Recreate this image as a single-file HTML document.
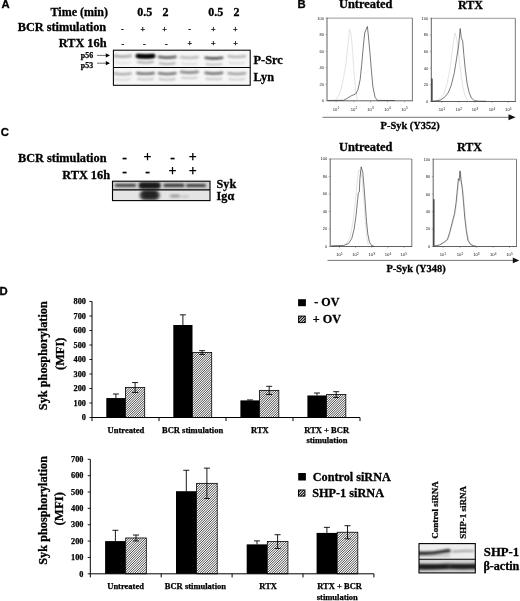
<!DOCTYPE html>
<html><head><meta charset="utf-8"><title>Figure</title>
<style>
html,body{margin:0;padding:0;background:#fff;}
body{width:520px;height:601px;overflow:hidden;}
svg{display:block;}
.ts{font-family:"Liberation Serif", serif;}
.ta{font-family:"Liberation Sans", sans-serif;}
</style></head><body>
<svg width="520" height="601" viewBox="0 0 520 601">
<defs>
<filter id="b1" filterUnits="userSpaceOnUse" x="0" y="0" width="520" height="601"><feGaussianBlur stdDeviation="1.1 0.8"/></filter>
<filter id="b2" filterUnits="userSpaceOnUse" x="0" y="0" width="520" height="601"><feGaussianBlur stdDeviation="1.6 1.0"/></filter>
<clipPath id="cA"><rect x="113.4" y="50.2" width="136.8" height="35.1"/></clipPath>
<clipPath id="cC"><rect x="112.5" y="181.2" width="97.5" height="19.4"/></clipPath>
<clipPath id="cS"><rect x="419" y="543.6" width="56.3" height="29.3"/></clipPath>
</defs>
<rect width="520" height="601" fill="#fff"/>
<text class="ta" x="1.6" y="8.4" font-size="11.3" text-anchor="start" font-weight="bold" fill="#000"  stroke="#000" stroke-width="0.3">A</text>
<text class="ta" x="297.6" y="8.1" font-size="11.3" text-anchor="start" font-weight="bold" fill="#000"  stroke="#000" stroke-width="0.3">B</text>
<text class="ta" x="0.8" y="136" font-size="11.3" text-anchor="start" font-weight="bold" fill="#000"  stroke="#000" stroke-width="0.3">C</text>
<text class="ta" x="-0.4" y="295.2" font-size="11.3" text-anchor="start" font-weight="bold" fill="#000"  stroke="#000" stroke-width="0.3">D</text>
<text class="ts" x="108" y="15.5" font-size="12" text-anchor="end" font-weight="bold" fill="#000"  stroke="#000" stroke-width="0.3">Time (min)</text>
<text class="ts" x="106.2" y="31.3" font-size="12.3" text-anchor="end" font-weight="bold" fill="#000"  stroke="#000" stroke-width="0.3">BCR stimulation</text>
<text class="ts" x="106.5" y="47.0" font-size="12.3" text-anchor="end" font-weight="bold" fill="#000"  stroke="#000" stroke-width="0.3">RTX 16h</text>
<text class="ts" x="144.75" y="15.5" font-size="12" text-anchor="middle" font-weight="bold" fill="#000"  stroke="#000" stroke-width="0.3">0.5</text>
<text class="ts" x="165.4" y="15.5" font-size="12" text-anchor="middle" font-weight="bold" fill="#000"  stroke="#000" stroke-width="0.3">2</text>
<text class="ts" x="215.7" y="15.5" font-size="12" text-anchor="middle" font-weight="bold" fill="#000"  stroke="#000" stroke-width="0.3">0.5</text>
<text class="ts" x="236.5" y="15.5" font-size="12" text-anchor="middle" font-weight="bold" fill="#000"  stroke="#000" stroke-width="0.3">2</text>
<text class="ts" x="122.3" y="32.4" font-size="8" text-anchor="middle" font-weight="bold" fill="#000"  stroke="#000" stroke-width="0.25">-</text>
<text class="ts" x="122.8" y="46.5" font-size="8" text-anchor="middle" font-weight="bold" fill="#000"  stroke="#000" stroke-width="0.25">-</text>
<text class="ts" x="142.9" y="31.9" font-size="8" text-anchor="middle" font-weight="bold" fill="#000"  stroke="#000" stroke-width="0.25">+</text>
<text class="ts" x="144.4" y="46.5" font-size="8" text-anchor="middle" font-weight="bold" fill="#000"  stroke="#000" stroke-width="0.25">-</text>
<text class="ts" x="164.6" y="31.9" font-size="8" text-anchor="middle" font-weight="bold" fill="#000"  stroke="#000" stroke-width="0.25">+</text>
<text class="ts" x="166.3" y="46.5" font-size="8" text-anchor="middle" font-weight="bold" fill="#000"  stroke="#000" stroke-width="0.25">-</text>
<text class="ts" x="189.5" y="32.4" font-size="8" text-anchor="middle" font-weight="bold" fill="#000"  stroke="#000" stroke-width="0.25">-</text>
<text class="ts" x="189.8" y="46.3" font-size="8" text-anchor="middle" font-weight="bold" fill="#000"  stroke="#000" stroke-width="0.25">+</text>
<text class="ts" x="213.2" y="31.9" font-size="8" text-anchor="middle" font-weight="bold" fill="#000"  stroke="#000" stroke-width="0.25">+</text>
<text class="ts" x="213.4" y="46.3" font-size="8" text-anchor="middle" font-weight="bold" fill="#000"  stroke="#000" stroke-width="0.25">+</text>
<text class="ts" x="235.4" y="31.9" font-size="8" text-anchor="middle" font-weight="bold" fill="#000"  stroke="#000" stroke-width="0.25">+</text>
<text class="ts" x="235.6" y="46.3" font-size="8" text-anchor="middle" font-weight="bold" fill="#000"  stroke="#000" stroke-width="0.25">+</text>
<text class="ts" x="80.8" y="57.8" font-size="7.9" text-anchor="start" font-weight="bold" fill="#000"  stroke="#000" stroke-width="0.25">p56</text>
<text class="ts" x="80.8" y="68.3" font-size="7.9" text-anchor="start" font-weight="bold" fill="#000"  stroke="#000" stroke-width="0.25">p53</text>
<path d="M97 55.4H107" stroke="#333" stroke-width="0.7"/><path d="M105.8 53.3L110 55.4L105.8 57.5Z" fill="#000"/>
<path d="M97 63.2H107" stroke="#333" stroke-width="0.7"/><path d="M105.8 61.1L110 63.2L105.8 65.3Z" fill="#000"/>
<rect x="113.4" y="50.2" width="136.8" height="35.1" fill="#f6f6f6"/>
<g clip-path="url(#cA)">
<path d="M114.30 55.90Q122.50 57.30 130.70 55.90" stroke="#000" stroke-width="2.6" stroke-linecap="round" fill="none" opacity="0.3" filter="url(#b1)"/>
<path d="M115.00 62.30Q122.50 63.50 130.00 62.30" stroke="#000" stroke-width="2.0" stroke-linecap="round" fill="none" opacity="0.08" filter="url(#b1)"/>
<path d="M137.60 55.90Q145.50 56.90 153.40 55.90" stroke="#000" stroke-width="4.2" stroke-linecap="round" fill="none" opacity="0.95" filter="url(#b1)"/>
<path d="M138.30 56.20Q145.50 57.00 152.70 56.20" stroke="#000" stroke-width="2.6" stroke-linecap="round" fill="none" opacity="0.9" filter="url(#b1)"/>
<path d="M138.00 62.10Q145.50 63.30 153.00 62.10" stroke="#000" stroke-width="2.0" stroke-linecap="round" fill="none" opacity="0.32" filter="url(#b1)"/>
<path d="M159.00 56.90Q167.20 58.30 175.40 56.90" stroke="#000" stroke-width="2.6" stroke-linecap="round" fill="none" opacity="0.62" filter="url(#b1)"/>
<path d="M159.70 63.30Q167.20 64.50 174.70 63.30" stroke="#000" stroke-width="2.0" stroke-linecap="round" fill="none" opacity="0.3" filter="url(#b1)"/>
<path d="M181.20 57.10Q189.40 58.50 197.60 57.10" stroke="#000" stroke-width="2.6" stroke-linecap="round" fill="none" opacity="0.24" filter="url(#b1)"/>
<path d="M181.90 63.50Q189.40 64.70 196.90 63.50" stroke="#000" stroke-width="2.0" stroke-linecap="round" fill="none" opacity="0.1" filter="url(#b1)"/>
<path d="M205.70 57.70Q213.90 59.10 222.10 57.70" stroke="#000" stroke-width="2.6" stroke-linecap="round" fill="none" opacity="0.68" filter="url(#b1)"/>
<path d="M206.40 64.10Q213.90 65.30 221.40 64.10" stroke="#000" stroke-width="2.0" stroke-linecap="round" fill="none" opacity="0.22" filter="url(#b1)"/>
<path d="M228.60 56.30Q236.80 57.70 245.00 56.30" stroke="#000" stroke-width="2.6" stroke-linecap="round" fill="none" opacity="0.27" filter="url(#b1)"/>
<path d="M229.30 62.70Q236.80 63.90 244.30 62.70" stroke="#000" stroke-width="2.0" stroke-linecap="round" fill="none" opacity="0.1" filter="url(#b1)"/>
<path d="M114.30 73.50Q122.50 74.90 130.70 73.50" stroke="#000" stroke-width="2.6" stroke-linecap="round" fill="none" opacity="0.3" filter="url(#b1)"/>
<path d="M114.90 79.20Q122.50 80.40 130.10 79.20" stroke="#000" stroke-width="1.8" stroke-linecap="round" fill="none" opacity="0.126" filter="url(#b1)"/>
<path d="M137.30 73.10Q145.50 74.50 153.70 73.10" stroke="#000" stroke-width="2.6" stroke-linecap="round" fill="none" opacity="0.52" filter="url(#b1)"/>
<path d="M137.90 78.80Q145.50 80.00 153.10 78.80" stroke="#000" stroke-width="1.8" stroke-linecap="round" fill="none" opacity="0.2184" filter="url(#b1)"/>
<path d="M159.00 73.30Q167.20 74.70 175.40 73.30" stroke="#000" stroke-width="2.6" stroke-linecap="round" fill="none" opacity="0.55" filter="url(#b1)"/>
<path d="M159.60 79.00Q167.20 80.20 174.80 79.00" stroke="#000" stroke-width="1.8" stroke-linecap="round" fill="none" opacity="0.231" filter="url(#b1)"/>
<path d="M181.20 71.90Q189.40 73.30 197.60 71.90" stroke="#000" stroke-width="2.6" stroke-linecap="round" fill="none" opacity="0.45" filter="url(#b1)"/>
<path d="M181.80 77.60Q189.40 78.80 197.00 77.60" stroke="#000" stroke-width="1.8" stroke-linecap="round" fill="none" opacity="0.189" filter="url(#b1)"/>
<path d="M205.70 72.90Q213.90 74.30 222.10 72.90" stroke="#000" stroke-width="2.6" stroke-linecap="round" fill="none" opacity="0.52" filter="url(#b1)"/>
<path d="M206.30 78.60Q213.90 79.80 221.50 78.60" stroke="#000" stroke-width="1.8" stroke-linecap="round" fill="none" opacity="0.2184" filter="url(#b1)"/>
<path d="M228.60 73.30Q236.80 74.70 245.00 73.30" stroke="#000" stroke-width="2.6" stroke-linecap="round" fill="none" opacity="0.36" filter="url(#b1)"/>
<path d="M229.20 79.00Q236.80 80.20 244.40 79.00" stroke="#000" stroke-width="1.8" stroke-linecap="round" fill="none" opacity="0.1512" filter="url(#b1)"/>
</g>
<rect x="113.4" y="50.2" width="136.8" height="35.1" fill="none" stroke="#000" stroke-width="1.05"/>
<path d="M113.4 67.4H250.2" stroke="#000" stroke-width="1.05"/>
<text class="ts" x="253.6" y="64.2" font-size="12.3" text-anchor="start" font-weight="bold" fill="#000"  stroke="#000" stroke-width="0.3">P-Src</text>
<text class="ts" x="253.6" y="80.8" font-size="12.3" text-anchor="start" font-weight="bold" fill="#000"  stroke="#000" stroke-width="0.3">Lyn</text>
<text class="ts" x="106.5" y="161.75" font-size="12.3" text-anchor="end" font-weight="bold" fill="#000"  stroke="#000" stroke-width="0.3">BCR stimulation</text>
<text class="ts" x="110" y="178.7" font-size="12.3" text-anchor="end" font-weight="bold" fill="#000"  stroke="#000" stroke-width="0.3">RTX 16h</text>
<text class="ts" x="124.7" y="162" font-size="14" text-anchor="middle" font-weight="bold" fill="#000"  stroke="#000" stroke-width="0.3">-</text>
<text class="ts" x="124.7" y="175.5" font-size="14" text-anchor="middle" font-weight="bold" fill="#000"  stroke="#000" stroke-width="0.3">-</text>
<text class="ts" x="147.6" y="160.9" font-size="14" text-anchor="middle" font-weight="bold" fill="#000"  stroke="#000" stroke-width="0.3">+</text>
<text class="ts" x="147.6" y="175.5" font-size="14" text-anchor="middle" font-weight="bold" fill="#000"  stroke="#000" stroke-width="0.3">-</text>
<text class="ts" x="172.6" y="162" font-size="14" text-anchor="middle" font-weight="bold" fill="#000"  stroke="#000" stroke-width="0.3">-</text>
<text class="ts" x="172.6" y="175.1" font-size="14" text-anchor="middle" font-weight="bold" fill="#000"  stroke="#000" stroke-width="0.3">+</text>
<text class="ts" x="192.8" y="160.9" font-size="14" text-anchor="middle" font-weight="bold" fill="#000"  stroke="#000" stroke-width="0.3">+</text>
<text class="ts" x="192.8" y="175.1" font-size="14" text-anchor="middle" font-weight="bold" fill="#000"  stroke="#000" stroke-width="0.3">+</text>
<rect x="112.5" y="181.2" width="97.5" height="8.8" fill="#cfcfcf"/>
<rect x="112.5" y="190" width="97.5" height="10.6" fill="#e4e4e4"/>
<g clip-path="url(#cC)">
<rect x="115.00" y="184.10" width="21" height="2.6" rx="1.30" fill="#000" opacity="0.72" filter="url(#b1)"/>
<rect x="138.70" y="182.15" width="22" height="6.5" rx="3.25" fill="#000" opacity="0.78" filter="url(#b1)"/>
<rect x="163.50" y="183.80" width="21" height="3.2" rx="1.60" fill="#000" opacity="0.72" filter="url(#b1)"/>
<rect x="186.00" y="183.90" width="20" height="3.0" rx="1.50" fill="#000" opacity="0.7" filter="url(#b1)"/>
<rect x="140.20" y="183.15" width="19" height="4.5" rx="2.25" fill="#000" opacity="0.5" filter="url(#b1)"/>
<rect x="139.70" y="190.30" width="20" height="10" rx="5.00" fill="#000" opacity="0.72" filter="url(#b2)"/>
<rect x="142.20" y="191.00" width="15" height="7" rx="3.50" fill="#000" opacity="0.45" filter="url(#b2)"/>
<rect x="170.00" y="194.50" width="10" height="3" rx="1.50" fill="#000" opacity="0.32" filter="url(#b2)"/>
<rect x="181.00" y="195.30" width="8" height="2.4" rx="1.20" fill="#000" opacity="0.12" filter="url(#b2)"/>
</g>
<rect x="112.5" y="181.2" width="97.5" height="19.4" fill="none" stroke="#000" stroke-width="1.1"/>
<path d="M112.5 189.9H210" stroke="#000" stroke-width="1.1"/>
<text class="ts" x="216.6" y="187.9" font-size="12.2" text-anchor="start" font-weight="bold" fill="#000"  stroke="#000" stroke-width="0.3">Syk</text>
<text class="ts" x="216.6" y="199.6" font-size="12.2" text-anchor="start" font-weight="bold" fill="#000"  stroke="#000" stroke-width="0.3">Igα</text>
<path d="M327 18.1H412.4" stroke="#999" stroke-width="1"/><path d="M412.4 18.1V100.8" stroke="#555" stroke-width="0.8"/><path d="M327 17.700000000000003V100.8H412.79999999999995" stroke="#3a3a3a" stroke-width="0.8" fill="none"/>
<text class="ta" x="324" y="19.5" font-size="4" text-anchor="end" font-weight="normal" fill="#222" >100</text>
<path d="M325.5 18.1H327" stroke="#555" stroke-width="0.4"/>
<text class="ta" x="324" y="36.04" font-size="4" text-anchor="end" font-weight="normal" fill="#222" >80</text>
<path d="M325.5 34.64H327" stroke="#555" stroke-width="0.4"/>
<text class="ta" x="324" y="52.58" font-size="4" text-anchor="end" font-weight="normal" fill="#222" >60</text>
<path d="M325.5 51.18H327" stroke="#555" stroke-width="0.4"/>
<text class="ta" x="324" y="69.12" font-size="4" text-anchor="end" font-weight="normal" fill="#222" >40</text>
<path d="M325.5 67.72H327" stroke="#555" stroke-width="0.4"/>
<text class="ta" x="324" y="85.66" font-size="4" text-anchor="end" font-weight="normal" fill="#222" >20</text>
<path d="M325.5 84.25999999999999H327" stroke="#555" stroke-width="0.4"/>
<text class="ta" x="324" y="102.19999999999999" font-size="4" text-anchor="end" font-weight="normal" fill="#222" >0</text>
<path d="M325.5 100.79999999999998H327" stroke="#555" stroke-width="0.4"/>
<text class="ta" x="336" y="110.6" font-size="4.2" text-anchor="middle" fill="#222">10<tspan dy="-1.6" font-size="3.2">1</tspan></text>
<path d="M336 100.8V102.3" stroke="#555" stroke-width="0.4"/>
<text class="ta" x="354" y="110.6" font-size="4.2" text-anchor="middle" fill="#222">10<tspan dy="-1.6" font-size="3.2">2</tspan></text>
<path d="M354 100.8V102.3" stroke="#555" stroke-width="0.4"/>
<text class="ta" x="370.5" y="110.6" font-size="4.2" text-anchor="middle" fill="#222">10<tspan dy="-1.6" font-size="3.2">3</tspan></text>
<path d="M370.5 100.8V102.3" stroke="#555" stroke-width="0.4"/>
<text class="ta" x="387.5" y="110.6" font-size="4.2" text-anchor="middle" fill="#222">10<tspan dy="-1.6" font-size="3.2">4</tspan></text>
<path d="M387.5 100.8V102.3" stroke="#555" stroke-width="0.4"/>
<text class="ta" x="404.5" y="110.6" font-size="4.2" text-anchor="middle" fill="#222">10<tspan dy="-1.6" font-size="3.2">5</tspan></text>
<path d="M404.5 100.8V102.3" stroke="#555" stroke-width="0.4"/>
<path d="M335.5 100.3 L340.0 92.8 L343.0 80.9 L346.0 62.9 L348.2 42.0 L349.7 29.2 L351.2 34.5 L352.7 52.4 L354.2 74.9 L355.7 91.3 L357.2 98.8 L358.7 100.5" fill="none" stroke="#d4d4d4" stroke-width="0.65" stroke-linejoin="round"/>
<path d="M328.0 100.5 L343.7 100.3 L347.5 98.1 L351.2 95.8 L355.7 94.0 L357.9 89.9 L360.2 79.4 L361.7 64.4 L363.2 47.9 L364.7 33.0 L366.2 29.2 L367.4 26.5 L368.4 36.0 L369.9 52.4 L371.4 70.4 L372.9 86.9 L375.1 97.3 L377.4 100.4 L395.0 100.5" fill="none" stroke="#3a3a3a" stroke-width="0.68" stroke-linejoin="round"/>
<path d="M431.3 18.3H515.3" stroke="#999" stroke-width="1"/><path d="M515.3 18.3V101.5" stroke="#555" stroke-width="0.8"/><path d="M431.3 17.900000000000002V101.5H515.6999999999999" stroke="#3a3a3a" stroke-width="0.8" fill="none"/>
<text class="ta" x="428.3" y="19.7" font-size="4" text-anchor="end" font-weight="normal" fill="#222" >100</text>
<path d="M429.8 18.3H431.3" stroke="#555" stroke-width="0.4"/>
<text class="ta" x="428.3" y="36.339999999999996" font-size="4" text-anchor="end" font-weight="normal" fill="#222" >80</text>
<path d="M429.8 34.94H431.3" stroke="#555" stroke-width="0.4"/>
<text class="ta" x="428.3" y="52.98" font-size="4" text-anchor="end" font-weight="normal" fill="#222" >60</text>
<path d="M429.8 51.58H431.3" stroke="#555" stroke-width="0.4"/>
<text class="ta" x="428.3" y="69.62" font-size="4" text-anchor="end" font-weight="normal" fill="#222" >40</text>
<path d="M429.8 68.22H431.3" stroke="#555" stroke-width="0.4"/>
<text class="ta" x="428.3" y="86.26" font-size="4" text-anchor="end" font-weight="normal" fill="#222" >20</text>
<path d="M429.8 84.86H431.3" stroke="#555" stroke-width="0.4"/>
<text class="ta" x="428.3" y="102.9" font-size="4" text-anchor="end" font-weight="normal" fill="#222" >0</text>
<path d="M429.8 101.5H431.3" stroke="#555" stroke-width="0.4"/>
<text class="ta" x="442" y="111.3" font-size="4.2" text-anchor="middle" fill="#222">10<tspan dy="-1.6" font-size="3.2">1</tspan></text>
<path d="M442 101.5V103.0" stroke="#555" stroke-width="0.4"/>
<text class="ta" x="458.7" y="111.3" font-size="4.2" text-anchor="middle" fill="#222">10<tspan dy="-1.6" font-size="3.2">2</tspan></text>
<path d="M458.7 101.5V103.0" stroke="#555" stroke-width="0.4"/>
<text class="ta" x="475" y="111.3" font-size="4.2" text-anchor="middle" fill="#222">10<tspan dy="-1.6" font-size="3.2">3</tspan></text>
<path d="M475 101.5V103.0" stroke="#555" stroke-width="0.4"/>
<text class="ta" x="492" y="111.3" font-size="4.2" text-anchor="middle" fill="#222">10<tspan dy="-1.6" font-size="3.2">4</tspan></text>
<path d="M492 101.5V103.0" stroke="#555" stroke-width="0.4"/>
<text class="ta" x="508.3" y="111.3" font-size="4.2" text-anchor="middle" fill="#222">10<tspan dy="-1.6" font-size="3.2">5</tspan></text>
<path d="M508.3 101.5V103.0" stroke="#555" stroke-width="0.4"/>
<path d="M437.0 101.0 L443.0 95.8 L446.7 85.4 L449.7 70.4 L452.0 53.9 L453.7 40.4 L455.2 33.0 L456.7 38.9 L458.4 51.0 L460.2 68.0 L462.5 84.5 L464.7 94.5 L466.9 99.5 L468.5 101.0" fill="none" stroke="#d4d4d4" stroke-width="0.65" stroke-linejoin="round"/>
<path d="M432.5 101.1 L440.0 100.3 L444.5 97.3 L448.2 92.8 L451.2 85.4 L454.2 73.4 L456.4 59.9 L458.7 44.9 L460.2 28.5 L461.2 37.5 L462.7 41.2 L463.9 55.4 L465.4 70.4 L467.2 83.9 L469.2 92.8 L471.4 98.1 L474.4 100.6 L478.9 101.2 L486.0 101.2" fill="none" stroke="#3a3a3a" stroke-width="0.68" stroke-linejoin="round"/>
<path d="M432.0 78.6V101.5" stroke="#222" stroke-width="1.1"/>
<path d="M330.2 159H411.8" stroke="#999" stroke-width="1"/><path d="M411.8 159V246.5" stroke="#555" stroke-width="0.8"/><path d="M330.2 158.6V246.5H412.2" stroke="#3a3a3a" stroke-width="0.8" fill="none"/>
<text class="ta" x="327.2" y="160.4" font-size="4" text-anchor="end" font-weight="normal" fill="#222" >100</text>
<path d="M328.7 159.0H330.2" stroke="#555" stroke-width="0.4"/>
<text class="ta" x="327.2" y="177.9" font-size="4" text-anchor="end" font-weight="normal" fill="#222" >80</text>
<path d="M328.7 176.5H330.2" stroke="#555" stroke-width="0.4"/>
<text class="ta" x="327.2" y="195.4" font-size="4" text-anchor="end" font-weight="normal" fill="#222" >60</text>
<path d="M328.7 194.0H330.2" stroke="#555" stroke-width="0.4"/>
<text class="ta" x="327.2" y="212.9" font-size="4" text-anchor="end" font-weight="normal" fill="#222" >40</text>
<path d="M328.7 211.5H330.2" stroke="#555" stroke-width="0.4"/>
<text class="ta" x="327.2" y="230.4" font-size="4" text-anchor="end" font-weight="normal" fill="#222" >20</text>
<path d="M328.7 229.0H330.2" stroke="#555" stroke-width="0.4"/>
<text class="ta" x="327.2" y="247.9" font-size="4" text-anchor="end" font-weight="normal" fill="#222" >0</text>
<path d="M328.7 246.5H330.2" stroke="#555" stroke-width="0.4"/>
<text class="ta" x="339.5" y="256.3" font-size="4.2" text-anchor="middle" fill="#222">10<tspan dy="-1.6" font-size="3.2">1</tspan></text>
<path d="M339.5 246.5V248.0" stroke="#555" stroke-width="0.4"/>
<text class="ta" x="355.5" y="256.3" font-size="4.2" text-anchor="middle" fill="#222">10<tspan dy="-1.6" font-size="3.2">2</tspan></text>
<path d="M355.5 246.5V248.0" stroke="#555" stroke-width="0.4"/>
<text class="ta" x="371.75" y="256.3" font-size="4.2" text-anchor="middle" fill="#222">10<tspan dy="-1.6" font-size="3.2">3</tspan></text>
<path d="M371.75 246.5V248.0" stroke="#555" stroke-width="0.4"/>
<text class="ta" x="388" y="256.3" font-size="4.2" text-anchor="middle" fill="#222">10<tspan dy="-1.6" font-size="3.2">4</tspan></text>
<path d="M388 246.5V248.0" stroke="#555" stroke-width="0.4"/>
<text class="ta" x="403.75" y="256.3" font-size="4.2" text-anchor="middle" fill="#222">10<tspan dy="-1.6" font-size="3.2">5</tspan></text>
<path d="M403.75 246.5V248.0" stroke="#555" stroke-width="0.4"/>
<path d="M345.4 245.4 L350.1 237.1 L353.0 221.4 L355.2 202.4 L357.2 181.9 L358.8 170.0 L360.3 170.5 L361.8 177.0 L363.5 194.5 L365.1 218.2 L366.7 237.1 L368.3 245.0" fill="none" stroke="#d4d4d4" stroke-width="0.65" stroke-linejoin="round"/>
<path d="M331.2 245.8 L343.8 245.4 L348.5 243.5 L351.7 238.7 L354.1 229.2 L356.1 215.0 L357.7 199.2 L358.3 192.9 L359.3 192.1 L359.9 178.7 L361.2 166.8 L362.8 172.4 L364.0 186.6 L365.3 204.0 L366.5 221.4 L367.8 234.0 L369.4 241.9 L371.4 245.4 L373.8 246.0" fill="none" stroke="#3a3a3a" stroke-width="0.68" stroke-linejoin="round"/>
<path d="M433.2 159.2H516.5" stroke="#999" stroke-width="1"/><path d="M516.5 159.2V246.5" stroke="#555" stroke-width="0.8"/><path d="M433.2 158.79999999999998V246.5H516.9" stroke="#3a3a3a" stroke-width="0.8" fill="none"/>
<text class="ta" x="430.2" y="160.6" font-size="4" text-anchor="end" font-weight="normal" fill="#222" >100</text>
<path d="M431.7 159.2H433.2" stroke="#555" stroke-width="0.4"/>
<text class="ta" x="430.2" y="178.06" font-size="4" text-anchor="end" font-weight="normal" fill="#222" >80</text>
<path d="M431.7 176.66H433.2" stroke="#555" stroke-width="0.4"/>
<text class="ta" x="430.2" y="195.52" font-size="4" text-anchor="end" font-weight="normal" fill="#222" >60</text>
<path d="M431.7 194.12H433.2" stroke="#555" stroke-width="0.4"/>
<text class="ta" x="430.2" y="212.98" font-size="4" text-anchor="end" font-weight="normal" fill="#222" >40</text>
<path d="M431.7 211.57999999999998H433.2" stroke="#555" stroke-width="0.4"/>
<text class="ta" x="430.2" y="230.44" font-size="4" text-anchor="end" font-weight="normal" fill="#222" >20</text>
<path d="M431.7 229.04H433.2" stroke="#555" stroke-width="0.4"/>
<text class="ta" x="430.2" y="247.9" font-size="4" text-anchor="end" font-weight="normal" fill="#222" >0</text>
<path d="M431.7 246.5H433.2" stroke="#555" stroke-width="0.4"/>
<text class="ta" x="443" y="256.3" font-size="4.2" text-anchor="middle" fill="#222">10<tspan dy="-1.6" font-size="3.2">1</tspan></text>
<path d="M443 246.5V248.0" stroke="#555" stroke-width="0.4"/>
<text class="ta" x="460" y="256.3" font-size="4.2" text-anchor="middle" fill="#222">10<tspan dy="-1.6" font-size="3.2">2</tspan></text>
<path d="M460 246.5V248.0" stroke="#555" stroke-width="0.4"/>
<text class="ta" x="476.4" y="256.3" font-size="4.2" text-anchor="middle" fill="#222">10<tspan dy="-1.6" font-size="3.2">3</tspan></text>
<path d="M476.4 246.5V248.0" stroke="#555" stroke-width="0.4"/>
<text class="ta" x="493.2" y="256.3" font-size="4.2" text-anchor="middle" fill="#222">10<tspan dy="-1.6" font-size="3.2">4</tspan></text>
<path d="M493.2 246.5V248.0" stroke="#555" stroke-width="0.4"/>
<text class="ta" x="509.5" y="256.3" font-size="4.2" text-anchor="middle" fill="#222">10<tspan dy="-1.6" font-size="3.2">5</tspan></text>
<path d="M509.5 246.5V248.0" stroke="#555" stroke-width="0.4"/>
<path d="M440.2 245.0 L444.1 242.7 L448.1 239.5 L450.4 232.4 L452.8 222.9 L455.2 213.5 L456.8 202.4 L458.3 188.1 L459.1 180.2 L459.9 181.8 L460.7 172.3 L461.5 180.2 L463.1 191.3 L464.2 202.4 L465.5 218.2 L467.0 230.8 L468.6 240.3 L471.0 244.3 L474.1 245.8" fill="none" stroke="#d4d4d4" stroke-width="0.65" stroke-linejoin="round"/>
<path d="M434.7 245.8 L439.5 245.0 L443.4 242.7 L447.4 239.5 L449.7 232.4 L452.1 222.9 L454.5 213.5 L456.1 202.4 L457.6 186.6 L458.4 178.7 L459.2 180.3 L460.0 170.8 L460.8 178.7 L462.4 189.8 L463.5 202.4 L464.8 218.2 L466.3 230.8 L467.9 240.3 L470.3 244.3 L473.4 245.8 L475.8 246.1" fill="none" stroke="#3a3a3a" stroke-width="0.68" stroke-linejoin="round"/>
<path d="M433.9 199.2V246.5" stroke="#222" stroke-width="1.1"/>
<text class="ts" x="339" y="8.3" font-size="12.4" text-anchor="start" font-weight="bold" fill="#000"  stroke="#000" stroke-width="0.3">Untreated</text>
<text class="ts" x="458" y="8.6" font-size="12.1" text-anchor="start" font-weight="bold" fill="#000"  stroke="#000" stroke-width="0.3">RTX</text>
<text class="ts" x="339" y="151" font-size="12.4" text-anchor="start" font-weight="bold" fill="#000"  stroke="#000" stroke-width="0.3">Untreated</text>
<text class="ts" x="457" y="151.4" font-size="12.1" text-anchor="start" font-weight="bold" fill="#000"  stroke="#000" stroke-width="0.3">RTX</text>
<path d="M322.5 117.3H509" stroke="#666" stroke-width="0.9"/><path d="M508.5 114.3L515.6 117.3L508.5 120.3Z" fill="#111"/>
<path d="M327.5 260.4H513" stroke="#666" stroke-width="0.9"/><path d="M512.8 257.5L519.3 260.4L512.8 263.3Z" fill="#111"/>
<text class="ts" x="410.2" y="129.3" font-size="10.4" text-anchor="middle" font-weight="bold" fill="#000"  stroke="#000" stroke-width="0.3">P-Syk (Y352)</text>
<text class="ts" x="416.1" y="272.4" font-size="10.4" text-anchor="middle" font-weight="bold" fill="#000"  stroke="#000" stroke-width="0.3">P-Syk (Y348)</text>
<rect x="106.30" y="398.07" width="19.2" height="19.43" fill="#000"/>
<rect x="125.50" y="387.49" width="19.2" height="30.01" fill="#fff"/>
<path d="M125.50 389.70L127.71 387.49M125.50 392.00L130.01 387.49M125.50 394.30L132.31 387.49M125.50 396.60L134.61 387.49M125.50 398.90L136.91 387.49M125.50 401.20L139.21 387.49M125.50 403.50L141.51 387.49M125.50 405.80L143.81 387.49M125.50 408.10L144.70 388.90M125.50 410.40L144.70 391.20M125.50 412.70L144.70 393.50M125.50 415.00L144.70 395.80M125.50 417.30L144.70 398.10M127.60 417.50L144.70 400.40M129.90 417.50L144.70 402.70M132.20 417.50L144.70 405.00M134.50 417.50L144.70 407.30M136.80 417.50L144.70 409.60M139.10 417.50L144.70 411.90M141.40 417.50L144.70 414.20M143.70 417.50L144.70 416.50" stroke="#000" stroke-width="0.72" fill="none"/>
<rect x="125.50" y="387.49" width="19.2" height="30.01" fill="none" stroke="#000" stroke-width="0.8"/>
<path d="M115.90 398.07V394.01M112.90 394.01H118.90" stroke="#000" stroke-width="0.9" fill="none"/>
<path d="M135.10 392.42V382.56M132.10 382.56H138.10M132.10 392.42H138.10" stroke="#000" stroke-width="0.9" fill="none"/>
<rect x="173.30" y="324.99" width="19.2" height="92.51" fill="#000"/>
<rect x="192.50" y="352.54" width="19.2" height="64.96" fill="#fff"/>
<path d="M192.50 352.60L192.56 352.54M192.50 354.90L194.86 352.54M192.50 357.20L197.16 352.54M192.50 359.50L199.46 352.54M192.50 361.80L201.76 352.54M192.50 364.10L204.06 352.54M192.50 366.40L206.36 352.54M192.50 368.70L208.66 352.54M192.50 371.00L210.96 352.54M192.50 373.30L211.70 354.10M192.50 375.60L211.70 356.40M192.50 377.90L211.70 358.70M192.50 380.20L211.70 361.00M192.50 382.50L211.70 363.30M192.50 384.80L211.70 365.60M192.50 387.10L211.70 367.90M192.50 389.40L211.70 370.20M192.50 391.70L211.70 372.50M192.50 394.00L211.70 374.80M192.50 396.30L211.70 377.10M192.50 398.60L211.70 379.40M192.50 400.90L211.70 381.70M192.50 403.20L211.70 384.00M192.50 405.50L211.70 386.30M192.50 407.80L211.70 388.60M192.50 410.10L211.70 390.90M192.50 412.40L211.70 393.20M192.50 414.70L211.70 395.50M192.50 417.00L211.70 397.80M194.30 417.50L211.70 400.10M196.60 417.50L211.70 402.40M198.90 417.50L211.70 404.70M201.20 417.50L211.70 407.00M203.50 417.50L211.70 409.30M205.80 417.50L211.70 411.60M208.10 417.50L211.70 413.90M210.40 417.50L211.70 416.20" stroke="#000" stroke-width="0.72" fill="none"/>
<rect x="192.50" y="352.54" width="19.2" height="64.96" fill="none" stroke="#000" stroke-width="0.8"/>
<path d="M182.90 324.99V314.84M179.90 314.84H185.90" stroke="#000" stroke-width="0.9" fill="none"/>
<path d="M202.10 354.43V350.66M199.10 350.66H205.10M199.10 354.43H205.10" stroke="#000" stroke-width="0.9" fill="none"/>
<rect x="240.40" y="400.39" width="19.2" height="17.11" fill="#000"/>
<rect x="259.60" y="390.38" width="19.2" height="27.12" fill="#fff"/>
<path d="M259.60 391.30L260.51 390.38M259.60 393.60L262.81 390.38M259.60 395.90L265.11 390.38M259.60 398.20L267.41 390.38M259.60 400.50L269.71 390.38M259.60 402.80L272.01 390.38M259.60 405.10L274.31 390.38M259.60 407.40L276.61 390.38M259.60 409.70L278.80 390.50M259.60 412.00L278.80 392.80M259.60 414.30L278.80 395.10M259.60 416.60L278.80 397.40M261.00 417.50L278.80 399.70M263.30 417.50L278.80 402.00M265.60 417.50L278.80 404.30M267.90 417.50L278.80 406.60M270.20 417.50L278.80 408.90M272.50 417.50L278.80 411.20M274.80 417.50L278.80 413.50M277.10 417.50L278.80 415.80" stroke="#000" stroke-width="0.72" fill="none"/>
<rect x="259.60" y="390.38" width="19.2" height="27.12" fill="none" stroke="#000" stroke-width="0.8"/>
<path d="M250.00 400.39V399.95M247.00 399.95H253.00" stroke="#000" stroke-width="0.9" fill="none"/>
<path d="M269.20 394.44V386.32M266.20 386.32H272.20M266.20 394.44H272.20" stroke="#000" stroke-width="0.9" fill="none"/>
<rect x="307.40" y="395.46" width="19.2" height="22.04" fill="#000"/>
<rect x="326.60" y="394.59" width="19.2" height="22.91" fill="#fff"/>
<path d="M326.60 395.60L327.61 394.59M326.60 397.90L329.91 394.59M326.60 400.20L332.21 394.59M326.60 402.50L334.51 394.59M326.60 404.80L336.81 394.59M326.60 407.10L339.11 394.59M326.60 409.40L341.41 394.59M326.60 411.70L343.71 394.59M326.60 414.00L345.80 394.80M326.60 416.30L345.80 397.10M327.70 417.50L345.80 399.40M330.00 417.50L345.80 401.70M332.30 417.50L345.80 404.00M334.60 417.50L345.80 406.30M336.90 417.50L345.80 408.60M339.20 417.50L345.80 410.90M341.50 417.50L345.80 413.20M343.80 417.50L345.80 415.50" stroke="#000" stroke-width="0.72" fill="none"/>
<rect x="326.60" y="394.59" width="19.2" height="22.91" fill="none" stroke="#000" stroke-width="0.8"/>
<path d="M317.00 395.46V393.00M314.00 393.00H320.00" stroke="#000" stroke-width="0.9" fill="none"/>
<path d="M336.20 397.49V391.69M333.20 391.69H339.20M333.20 397.49H339.20" stroke="#000" stroke-width="0.9" fill="none"/>
<path d="M92 301.5V417.5H360.0" stroke="#000" stroke-width="1" fill="none"/>
<path d="M89.4 417.50H92" stroke="#000" stroke-width="0.9"/>
<text class="ts" x="86" y="420.2" font-size="8.3" text-anchor="end" font-weight="bold" fill="#000"  stroke="#000" stroke-width="0.25">0</text>
<path d="M89.4 403.00H92" stroke="#000" stroke-width="0.9"/>
<text class="ts" x="86" y="405.7" font-size="8.3" text-anchor="end" font-weight="bold" fill="#000"  stroke="#000" stroke-width="0.25">100</text>
<path d="M89.4 388.50H92" stroke="#000" stroke-width="0.9"/>
<text class="ts" x="86" y="391.2" font-size="8.3" text-anchor="end" font-weight="bold" fill="#000"  stroke="#000" stroke-width="0.25">200</text>
<path d="M89.4 374.00H92" stroke="#000" stroke-width="0.9"/>
<text class="ts" x="86" y="376.7" font-size="8.3" text-anchor="end" font-weight="bold" fill="#000"  stroke="#000" stroke-width="0.25">300</text>
<path d="M89.4 359.50H92" stroke="#000" stroke-width="0.9"/>
<text class="ts" x="86" y="362.2" font-size="8.3" text-anchor="end" font-weight="bold" fill="#000"  stroke="#000" stroke-width="0.25">400</text>
<path d="M89.4 345.00H92" stroke="#000" stroke-width="0.9"/>
<text class="ts" x="86" y="347.7" font-size="8.3" text-anchor="end" font-weight="bold" fill="#000"  stroke="#000" stroke-width="0.25">500</text>
<path d="M89.4 330.50H92" stroke="#000" stroke-width="0.9"/>
<text class="ts" x="86" y="333.2" font-size="8.3" text-anchor="end" font-weight="bold" fill="#000"  stroke="#000" stroke-width="0.25">600</text>
<path d="M89.4 316.00H92" stroke="#000" stroke-width="0.9"/>
<text class="ts" x="86" y="318.7" font-size="8.3" text-anchor="end" font-weight="bold" fill="#000"  stroke="#000" stroke-width="0.25">700</text>
<path d="M89.4 301.50H92" stroke="#000" stroke-width="0.9"/>
<text class="ts" x="86" y="304.2" font-size="8.3" text-anchor="end" font-weight="bold" fill="#000"  stroke="#000" stroke-width="0.25">800</text>
<path d="M92.00 417.5V421.1" stroke="#000" stroke-width="1"/>
<path d="M159.00 417.5V421.1" stroke="#000" stroke-width="1"/>
<path d="M226.00 417.5V421.1" stroke="#000" stroke-width="1"/>
<path d="M293.00 417.5V421.1" stroke="#000" stroke-width="1"/>
<path d="M360.00 417.5V421.1" stroke="#000" stroke-width="1"/>
<text class="ts" x="125.9" y="432.7" font-size="8.5" text-anchor="middle" font-weight="bold" fill="#000"  stroke="#000" stroke-width="0.25">Untreated</text>
<text class="ts" x="192.6" y="432.7" font-size="8.5" text-anchor="middle" font-weight="bold" fill="#000"  stroke="#000" stroke-width="0.25">BCR stimulation</text>
<text class="ts" x="259.9" y="432.7" font-size="8.5" text-anchor="middle" font-weight="bold" fill="#000"  stroke="#000" stroke-width="0.25">RTX</text>
<text class="ts" x="326.7" y="432.7" font-size="8.5" text-anchor="middle" font-weight="bold" fill="#000"  stroke="#000" stroke-width="0.25">RTX + BCR</text>
<text class="ts" x="327" y="443.09999999999997" font-size="8.5" text-anchor="middle" font-weight="bold" fill="#000"  stroke="#000" stroke-width="0.25">stimulation</text>
<text class="ts" transform="translate(47.3 355.7) rotate(-90)" font-size="12.3" text-anchor="middle" font-weight="bold" stroke="#000" stroke-width="0.3">Syk phosphorylation</text>
<text class="ts" transform="translate(63.7 353.8) rotate(-90)" font-size="12.4" text-anchor="middle" font-weight="bold" stroke="#000" stroke-width="0.3">(MFI)</text>
<rect x="105.10" y="541.09" width="20.6" height="32.71" fill="#000"/>
<rect x="125.70" y="537.98" width="20.6" height="35.82" fill="#fff"/>
<path d="M125.70 539.10L126.82 537.98M125.70 541.50L129.22 537.98M125.70 543.90L131.62 537.98M125.70 546.30L134.02 537.98M125.70 548.70L136.42 537.98M125.70 551.10L138.82 537.98M125.70 553.50L141.22 537.98M125.70 555.90L143.62 537.98M125.70 558.30L146.02 537.98M125.70 560.70L146.30 540.10M125.70 563.10L146.30 542.50M125.70 565.50L146.30 544.90M125.70 567.90L146.30 547.30M125.70 570.30L146.30 549.70M125.70 572.70L146.30 552.10M127.00 573.80L146.30 554.50M129.40 573.80L146.30 556.90M131.80 573.80L146.30 559.30M134.20 573.80L146.30 561.70M136.60 573.80L146.30 564.10M139.00 573.80L146.30 566.50M141.40 573.80L146.30 568.90M143.80 573.80L146.30 571.30M146.20 573.80L146.30 573.70" stroke="#000" stroke-width="0.72" fill="none"/>
<rect x="125.70" y="537.98" width="20.6" height="35.82" fill="none" stroke="#000" stroke-width="0.8"/>
<path d="M115.40 541.09V530.29M112.40 530.29H118.40" stroke="#000" stroke-width="0.9" fill="none"/>
<path d="M136.00 540.92V535.03M133.00 535.03H139.00M133.00 540.92H139.00" stroke="#000" stroke-width="0.9" fill="none"/>
<rect x="176.00" y="491.20" width="20.6" height="82.60" fill="#000"/>
<rect x="196.60" y="483.35" width="20.6" height="90.45" fill="#fff"/>
<path d="M196.60 485.00L198.25 483.35M196.60 487.40L200.65 483.35M196.60 489.80L203.05 483.35M196.60 492.20L205.45 483.35M196.60 494.60L207.85 483.35M196.60 497.00L210.25 483.35M196.60 499.40L212.65 483.35M196.60 501.80L215.05 483.35M196.60 504.20L217.20 483.60M196.60 506.60L217.20 486.00M196.60 509.00L217.20 488.40M196.60 511.40L217.20 490.80M196.60 513.80L217.20 493.20M196.60 516.20L217.20 495.60M196.60 518.60L217.20 498.00M196.60 521.00L217.20 500.40M196.60 523.40L217.20 502.80M196.60 525.80L217.20 505.20M196.60 528.20L217.20 507.60M196.60 530.60L217.20 510.00M196.60 533.00L217.20 512.40M196.60 535.40L217.20 514.80M196.60 537.80L217.20 517.20M196.60 540.20L217.20 519.60M196.60 542.60L217.20 522.00M196.60 545.00L217.20 524.40M196.60 547.40L217.20 526.80M196.60 549.80L217.20 529.20M196.60 552.20L217.20 531.60M196.60 554.60L217.20 534.00M196.60 557.00L217.20 536.40M196.60 559.40L217.20 538.80M196.60 561.80L217.20 541.20M196.60 564.20L217.20 543.60M196.60 566.60L217.20 546.00M196.60 569.00L217.20 548.40M196.60 571.40L217.20 550.80M196.60 573.80L217.20 553.20M199.00 573.80L217.20 555.60M201.40 573.80L217.20 558.00M203.80 573.80L217.20 560.40M206.20 573.80L217.20 562.80M208.60 573.80L217.20 565.20M211.00 573.80L217.20 567.60M213.40 573.80L217.20 570.00M215.80 573.80L217.20 572.40" stroke="#000" stroke-width="0.72" fill="none"/>
<rect x="196.60" y="483.35" width="20.6" height="90.45" fill="none" stroke="#000" stroke-width="0.8"/>
<path d="M186.30 491.20V470.26M183.30 470.26H189.30" stroke="#000" stroke-width="0.9" fill="none"/>
<path d="M206.90 498.56V468.13M203.90 468.13H209.90M203.90 498.56H209.90" stroke="#000" stroke-width="0.9" fill="none"/>
<rect x="246.70" y="544.36" width="20.6" height="29.44" fill="#000"/>
<rect x="267.30" y="541.58" width="20.6" height="32.22" fill="#fff"/>
<path d="M267.30 543.90L269.62 541.58M267.30 546.30L272.02 541.58M267.30 548.70L274.42 541.58M267.30 551.10L276.82 541.58M267.30 553.50L279.22 541.58M267.30 555.90L281.62 541.58M267.30 558.30L284.02 541.58M267.30 560.70L286.42 541.58M267.30 563.10L287.90 542.50M267.30 565.50L287.90 544.90M267.30 567.90L287.90 547.30M267.30 570.30L287.90 549.70M267.30 572.70L287.90 552.10M268.60 573.80L287.90 554.50M271.00 573.80L287.90 556.90M273.40 573.80L287.90 559.30M275.80 573.80L287.90 561.70M278.20 573.80L287.90 564.10M280.60 573.80L287.90 566.50M283.00 573.80L287.90 568.90M285.40 573.80L287.90 571.30M287.80 573.80L287.90 573.70" stroke="#000" stroke-width="0.72" fill="none"/>
<rect x="267.30" y="541.58" width="20.6" height="32.22" fill="none" stroke="#000" stroke-width="0.8"/>
<path d="M257.00 544.36V540.92M254.00 540.92H260.00" stroke="#000" stroke-width="0.9" fill="none"/>
<path d="M277.60 548.45V534.71M274.60 534.71H280.60M274.60 548.45H280.60" stroke="#000" stroke-width="0.9" fill="none"/>
<rect x="316.60" y="532.91" width="20.6" height="40.89" fill="#000"/>
<rect x="337.20" y="532.25" width="20.6" height="41.55" fill="#fff"/>
<path d="M337.20 534.00L338.95 532.25M337.20 536.40L341.35 532.25M337.20 538.80L343.75 532.25M337.20 541.20L346.15 532.25M337.20 543.60L348.55 532.25M337.20 546.00L350.95 532.25M337.20 548.40L353.35 532.25M337.20 550.80L355.75 532.25M337.20 553.20L357.80 532.60M337.20 555.60L357.80 535.00M337.20 558.00L357.80 537.40M337.20 560.40L357.80 539.80M337.20 562.80L357.80 542.20M337.20 565.20L357.80 544.60M337.20 567.60L357.80 547.00M337.20 570.00L357.80 549.40M337.20 572.40L357.80 551.80M338.20 573.80L357.80 554.20M340.60 573.80L357.80 556.60M343.00 573.80L357.80 559.00M345.40 573.80L357.80 561.40M347.80 573.80L357.80 563.80M350.20 573.80L357.80 566.20M352.60 573.80L357.80 568.60M355.00 573.80L357.80 571.00M357.40 573.80L357.80 573.40" stroke="#000" stroke-width="0.72" fill="none"/>
<rect x="337.20" y="532.25" width="20.6" height="41.55" fill="none" stroke="#000" stroke-width="0.8"/>
<path d="M326.90 532.91V527.35M323.90 527.35H329.90" stroke="#000" stroke-width="0.9" fill="none"/>
<path d="M347.50 538.80V525.71M344.50 525.71H350.50M344.50 538.80H350.50" stroke="#000" stroke-width="0.9" fill="none"/>
<path d="M90.3 459.3V573.8H373.9" stroke="#000" stroke-width="1" fill="none"/>
<path d="M87.7 573.80H90.3" stroke="#000" stroke-width="0.9"/>
<text class="ts" x="83.5" y="576.5" font-size="8.3" text-anchor="end" font-weight="bold" fill="#000"  stroke="#000" stroke-width="0.25">0</text>
<path d="M87.7 557.44H90.3" stroke="#000" stroke-width="0.9"/>
<text class="ts" x="83.5" y="560.14" font-size="8.3" text-anchor="end" font-weight="bold" fill="#000"  stroke="#000" stroke-width="0.25">100</text>
<path d="M87.7 541.09H90.3" stroke="#000" stroke-width="0.9"/>
<text class="ts" x="83.5" y="543.79" font-size="8.3" text-anchor="end" font-weight="bold" fill="#000"  stroke="#000" stroke-width="0.25">200</text>
<path d="M87.7 524.73H90.3" stroke="#000" stroke-width="0.9"/>
<text class="ts" x="83.5" y="527.43" font-size="8.3" text-anchor="end" font-weight="bold" fill="#000"  stroke="#000" stroke-width="0.25">300</text>
<path d="M87.7 508.37H90.3" stroke="#000" stroke-width="0.9"/>
<text class="ts" x="83.5" y="511.07" font-size="8.3" text-anchor="end" font-weight="bold" fill="#000"  stroke="#000" stroke-width="0.25">400</text>
<path d="M87.7 492.01H90.3" stroke="#000" stroke-width="0.9"/>
<text class="ts" x="83.5" y="494.71" font-size="8.3" text-anchor="end" font-weight="bold" fill="#000"  stroke="#000" stroke-width="0.25">500</text>
<path d="M87.7 475.66H90.3" stroke="#000" stroke-width="0.9"/>
<text class="ts" x="83.5" y="478.36" font-size="8.3" text-anchor="end" font-weight="bold" fill="#000"  stroke="#000" stroke-width="0.25">600</text>
<path d="M87.7 459.30H90.3" stroke="#000" stroke-width="0.9"/>
<text class="ts" x="83.5" y="462.0" font-size="8.3" text-anchor="end" font-weight="bold" fill="#000"  stroke="#000" stroke-width="0.25">700</text>
<path d="M90.30 573.8V577.4" stroke="#000" stroke-width="1"/>
<path d="M161.20 573.8V577.4" stroke="#000" stroke-width="1"/>
<path d="M232.10 573.8V577.4" stroke="#000" stroke-width="1"/>
<path d="M303.00 573.8V577.4" stroke="#000" stroke-width="1"/>
<path d="M373.90 573.8V577.4" stroke="#000" stroke-width="1"/>
<text class="ts" x="125.6" y="589.4" font-size="8.5" text-anchor="middle" font-weight="bold" fill="#000"  stroke="#000" stroke-width="0.25">Untreated</text>
<text class="ts" x="195.4" y="589.4" font-size="8.5" text-anchor="middle" font-weight="bold" fill="#000"  stroke="#000" stroke-width="0.25">BCR stimulation</text>
<text class="ts" x="268.2" y="589.4" font-size="8.5" text-anchor="middle" font-weight="bold" fill="#000"  stroke="#000" stroke-width="0.25">RTX</text>
<text class="ts" x="339.6" y="589.4" font-size="8.5" text-anchor="middle" font-weight="bold" fill="#000"  stroke="#000" stroke-width="0.25">RTX + BCR</text>
<text class="ts" x="337.3" y="599.8" font-size="8.5" text-anchor="middle" font-weight="bold" fill="#000"  stroke="#000" stroke-width="0.25">stimulation</text>
<text class="ts" transform="translate(47.1 510.35) rotate(-90)" font-size="12.27" text-anchor="middle" font-weight="bold" stroke="#000" stroke-width="0.3">Syk phosphorylation</text>
<text class="ts" transform="translate(63 508.75) rotate(-90)" font-size="12.75" text-anchor="middle" font-weight="bold" stroke="#000" stroke-width="0.3">(MFI)</text>
<rect x="298.1" y="299.2" width="7.8" height="7" fill="#000"/>
<rect x="298.60" y="316.10" width="6.6" height="6.50" fill="#fff"/>
<path d="M298.60 317.00L299.50 316.10M298.60 319.70L302.20 316.10M298.60 322.40L304.90 316.10M301.10 322.60L305.20 318.50M303.80 322.60L305.20 321.20" stroke="#000" stroke-width="1.05" fill="none"/>
<rect x="298.60" y="316.10" width="6.6" height="6.50" fill="none" stroke="#000" stroke-width="1.0"/>
<text class="ts" x="314.2" y="306.4" font-size="12.1" text-anchor="start" font-weight="bold" fill="#000"  stroke="#000" stroke-width="0.3">- OV</text>
<text class="ts" x="312.8" y="323" font-size="12.2" text-anchor="start" font-weight="bold" fill="#000"  stroke="#000" stroke-width="0.3">+ OV</text>
<rect x="298.2" y="473" width="7.7" height="7.5" fill="#000"/>
<rect x="298.50" y="490.00" width="6.4" height="6.10" fill="#fff"/>
<path d="M298.50 492.60L301.10 490.00M298.50 495.30L303.80 490.00M300.40 496.10L304.90 491.60M303.10 496.10L304.90 494.30" stroke="#000" stroke-width="1.05" fill="none"/>
<rect x="298.50" y="490.00" width="6.4" height="6.10" fill="none" stroke="#000" stroke-width="1.0"/>
<text class="ts" x="312.8" y="480.6" font-size="12.2" text-anchor="start" font-weight="bold" fill="#000"  stroke="#000" stroke-width="0.3">Control siRNA</text>
<text class="ts" x="312.2" y="496.8" font-size="12.25" text-anchor="start" font-weight="bold" fill="#000"  stroke="#000" stroke-width="0.3">SHP-1 siRNA</text>
<text class="ts" transform="translate(438 538.8) rotate(-90)" font-size="9" text-anchor="start" font-weight="bold" stroke="#000" stroke-width="0.25">Control siRNA</text>
<text class="ts" transform="translate(466 538.8) rotate(-90)" font-size="9" text-anchor="start" font-weight="bold" stroke="#000" stroke-width="0.25">SHP-1 siRNA</text>
<rect x="419" y="543.6" width="56.3" height="15.7" fill="#eeeeee"/>
<rect x="419" y="559.3" width="56.3" height="13.6" fill="#d2d2d2"/>
<g clip-path="url(#cS)">
<path d="M417 553C428 553.8 436 552.8 442 551.6S447 550.6 449 550.8" stroke="#000" stroke-width="3.4" stroke-linecap="round" fill="none" opacity="0.8" filter="url(#b1)"/>
<path d="M417 555.5H450" stroke="#000" stroke-width="3" fill="none" opacity="0.15" filter="url(#b2)"/>
<path d="M453 551.6Q462 550.6 473 551" stroke="#000" stroke-width="2.2" stroke-linecap="round" fill="none" opacity="0.3" filter="url(#b1)"/>
<path d="M416 566.6Q432 567.4 447 566.2Q462 567 478 566.2" stroke="#000" stroke-width="5.6" fill="none" opacity="0.78" filter="url(#b1)"/>
<rect x="420.00" y="565.10" width="28" height="3.4" rx="1.70" fill="#000" opacity="0.4" filter="url(#b1)"/>
<rect x="451.00" y="564.90" width="24" height="3.2" rx="1.60" fill="#000" opacity="0.35" filter="url(#b1)"/>
</g>
<rect x="419" y="543.6" width="56.3" height="29.3" fill="none" stroke="#000" stroke-width="1.1"/>
<path d="M419 559.3H475.3" stroke="#000" stroke-width="1.1"/>
<text class="ts" x="483.8" y="555.6" font-size="12.75" text-anchor="start" font-weight="bold" fill="#000"  stroke="#000" stroke-width="0.3">SHP-1</text>
<text class="ts" x="483.4" y="570" font-size="12.1" text-anchor="start" font-weight="bold" fill="#000"  stroke="#000" stroke-width="0.3">β-actin</text>
</svg>
</body></html>
